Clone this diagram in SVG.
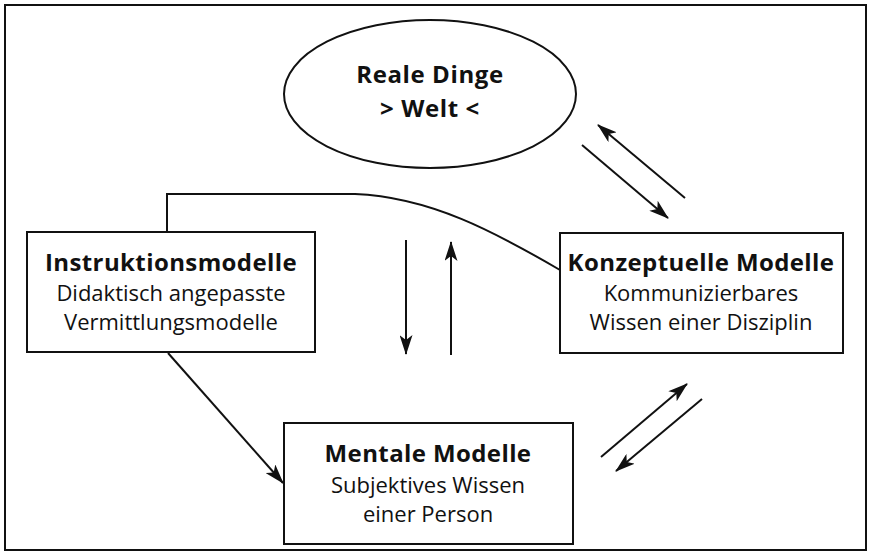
<svg xmlns="http://www.w3.org/2000/svg" width="870" height="560" viewBox="0 0 870 560">
<defs>
<style>
.box{fill:#fff;stroke:#111;stroke-width:2}
.line{fill:none;stroke:#111;stroke-width:2}
.t{font-family:"Open Sans","Liberation Sans",sans-serif;fill:#111;text-anchor:middle}
.b{font-weight:bold;font-size:24px;letter-spacing:0.4px}
.e{font-weight:bold;font-size:24px;letter-spacing:0.6px}
.r{font-size:22px}
</style>
<marker id="ah" markerUnits="userSpaceOnUse" markerWidth="20" markerHeight="13" viewBox="0 0 20 13" refX="19" refY="6.5" orient="auto">
<path d="M0,0 L20,6.5 L0,13 L5,6.5 z" fill="#111"/>
</marker>
</defs>
<rect x="0" y="0" width="870" height="560" fill="#fff"/>
<rect x="5" y="5" width="861" height="545" fill="none" stroke="#111" stroke-width="2"/>
<g id="connectors">
<path class="line" d="M167,232 L167,194 L355,194 C430,197 495,232 560,270"/>
<line class="line" x1="406" y1="240" x2="406" y2="354" marker-end="url(#ah)"/>
<line class="line" x1="451" y1="355" x2="451" y2="242" marker-end="url(#ah)"/>
<line class="line" x1="685" y1="198" x2="598" y2="125" marker-end="url(#ah)"/>
<line class="line" x1="582" y1="145" x2="668" y2="218" marker-end="url(#ah)"/>
<line class="line" x1="601" y1="457" x2="687" y2="384" marker-end="url(#ah)"/>
<line class="line" x1="702" y1="399" x2="616" y2="471" marker-end="url(#ah)"/>
<line class="line" x1="168" y1="353" x2="283" y2="483" marker-end="url(#ah)"/>
</g>
<g id="reale-dinge">
<ellipse class="box" cx="430" cy="94" rx="146" ry="74"/>
<text class="t e" x="430" y="83">Reale Dinge</text>
<text class="t e" x="430" y="117">&gt; Welt &lt;</text>
</g>
<g id="instruktionsmodelle">
<rect class="box" x="27" y="232" width="288" height="120"/>
<text class="t b" x="171" y="271">Instruktionsmodelle</text>
<text class="t r" x="171" y="301">Didaktisch angepasste</text>
<text class="t r" x="171" y="330">Vermittlungsmodelle</text>
</g>
<g id="konzeptuelle-modelle">
<rect class="box" x="560" y="233" width="283" height="120"/>
<text class="t b" x="701" y="271">Konzeptuelle Modelle</text>
<text class="t r" x="701" y="301">Kommunizierbares</text>
<text class="t r" x="701" y="330">Wissen einer Disziplin</text>
</g>
<g id="mentale-modelle">
<rect class="box" x="284" y="423" width="289" height="121"/>
<text class="t b" x="428" y="462">Mentale Modelle</text>
<text class="t r" x="428" y="493">Subjektives Wissen</text>
<text class="t r" x="428" y="522">einer Person</text>
</g>
</svg>
